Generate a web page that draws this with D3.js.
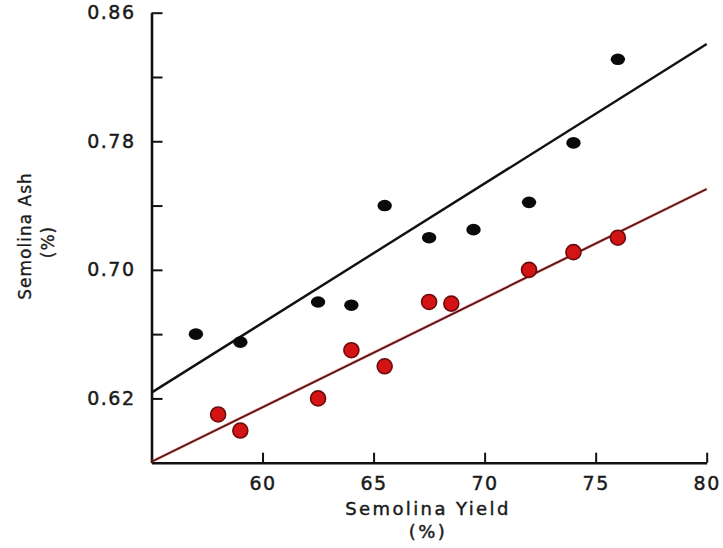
<!DOCTYPE html>
<html>
<head>
<meta charset="utf-8">
<script src="https://cdn.jsdelivr.net/npm/d3@7"></script>
<style>
	html, body { margin: 0; padding: 0; background: #fff; }
	svg { display: block; }
</style>
</head>
<body>
<script>
// ---------------- data ----------------
const blackYield = [57, 59, 62.5, 64, 65.5, 67.5, 69.5, 72, 74, 76];
const blackAsh = [0.66, 0.655, 0.68, 0.678, 0.74, 0.72, 0.725, 0.742, 0.779, 0.831];

const redYield = [58, 59, 62.5, 64, 65.5, 67.5, 68.5, 72, 74, 76];
const redAsh = [0.61, 0.6, 0.62, 0.65, 0.64, 0.68, 0.679, 0.7, 0.711, 0.72];

// fitted lines, endpoints at x = 55 and x = 80
const blackLineX = [55, 80];
const blackLineY = [0.6236, 0.8405];
const redLineX = [55, 80];
const redLineY = [0.5806, 0.7503];

const xTicks = [60, 65, 70, 75, 80];
const yTicks = [0.62, 0.66, 0.7, 0.74, 0.78, 0.82, 0.86];
const yTickLabels = [0.62, 0.7, 0.78, 0.86];

// ---------------- chart ----------------
const width = 723;
const height = 548;
const font = "'DejaVu Sans', sans-serif";

const x = d3.scaleLinear().domain([55, 80]).range([151.5, 706.7]);
const y = d3.scaleLinear().domain([0.58, 0.86]).range([462.7, 12.7]);

const svg = d3.select('body').append('svg')
	.attr('width', width)
	.attr('height', height)
	.attr('viewBox', [0, 0, width, height]);

// axes, ticks point inward
const xAxis = d3.axisBottom(x)
	.tickValues(xTicks)
	.tickSizeInner(-10)
	.tickSizeOuter(0)
	.tickPadding(14)
	.tickFormat(d3.format('d'));

const yAxis = d3.axisLeft(y)
	.tickValues(yTicks)
	.tickSizeInner(-11)
	.tickSizeOuter(0)
	.tickPadding(16)
	.tickFormat((d) => (yTickLabels.some((v) => Math.abs(v - d) < 1e-9) ? d3.format('.2f')(d) : ''));

const gx = svg.append('g')
	.attr('transform', `translate(0,${y(0.58)})`)
	.call(xAxis);

const gy = svg.append('g')
	.attr('transform', `translate(${x(55)},0)`)
	.call(yAxis);

[gx, gy].forEach((g) => {
	g.select('.domain').attr('stroke', '#111').attr('stroke-width', 2.6);
	g.selectAll('.tick line').attr('stroke', '#111').attr('stroke-width', 2);
	g.selectAll('.tick text')
		.attr('fill', '#1a1a1a')
		.attr('stroke', '#1a1a1a')
		.attr('stroke-width', 0.45)
		.style('font-family', font)
		.style('font-size', '19px')
		.style('letter-spacing', '1.5px');
});

// regression lines
const line = d3.line()
	.x((d) => x(d[0]))
	.y((d) => y(d[1]));

svg.append('path')
	.datum(d3.zip(blackLineX, blackLineY))
	.attr('d', line)
	.attr('fill', 'none')
	.attr('stroke', '#111')
	.attr('stroke-width', 2.4);

svg.append('path')
	.datum(d3.zip(redLineX, redLineY))
	.attr('d', line)
	.attr('fill', 'none')
	.attr('stroke', '#e03030')
	.attr('stroke-width', 3)
	.attr('stroke-opacity', 0.45);

svg.append('path')
	.datum(d3.zip(redLineX, redLineY))
	.attr('d', line)
	.attr('fill', 'none')
	.attr('stroke', '#5a1414')
	.attr('stroke-width', 1.8);

// points
svg.append('g')
	.selectAll('ellipse')
	.data(d3.zip(blackYield, blackAsh))
	.join('ellipse')
	.attr('cx', (d) => x(d[0]))
	.attr('cy', (d) => y(d[1]))
	.attr('rx', 7.2)
	.attr('ry', 5.8)
	.attr('fill', '#0a0a0a');

svg.append('g')
	.selectAll('circle')
	.data(d3.zip(redYield, redAsh))
	.join('circle')
	.attr('cx', (d) => x(d[0]))
	.attr('cy', (d) => y(d[1]))
	.attr('r', 7.5)
	.attr('fill', '#d41414')
	.attr('stroke', '#6a0c0c')
	.attr('stroke-width', 1.6);

// axis titles
const xTitle = svg.append('text')
	.attr('text-anchor', 'middle')
	.attr('fill', '#1a1a1a')
	.attr('stroke', '#1a1a1a')
	.attr('stroke-width', 0.45)
	.style('font-family', font)
	.style('font-size', '18px')
	.style('letter-spacing', '2.4px');
xTitle.append('tspan').attr('x', 428).attr('y', 515).text('Semolina Yield');
xTitle.append('tspan').attr('x', 428).attr('y', 538).text('(%)');

const yTitle = svg.append('text')
	.attr('text-anchor', 'middle')
	.attr('transform', 'translate(0,236) rotate(-90)')
	.attr('fill', '#1a1a1a')
	.attr('stroke', '#1a1a1a')
	.attr('stroke-width', 0.35)
	.style('font-family', font)
	.style('font-size', '17px')
	.style('letter-spacing', '1px');
yTitle.append('tspan').attr('x', 0).attr('y', 31).text('Semolina Ash');
yTitle.append('tspan').attr('x', -6).attr('y', 54).text('(%)');
</script>
</body>
</html>
